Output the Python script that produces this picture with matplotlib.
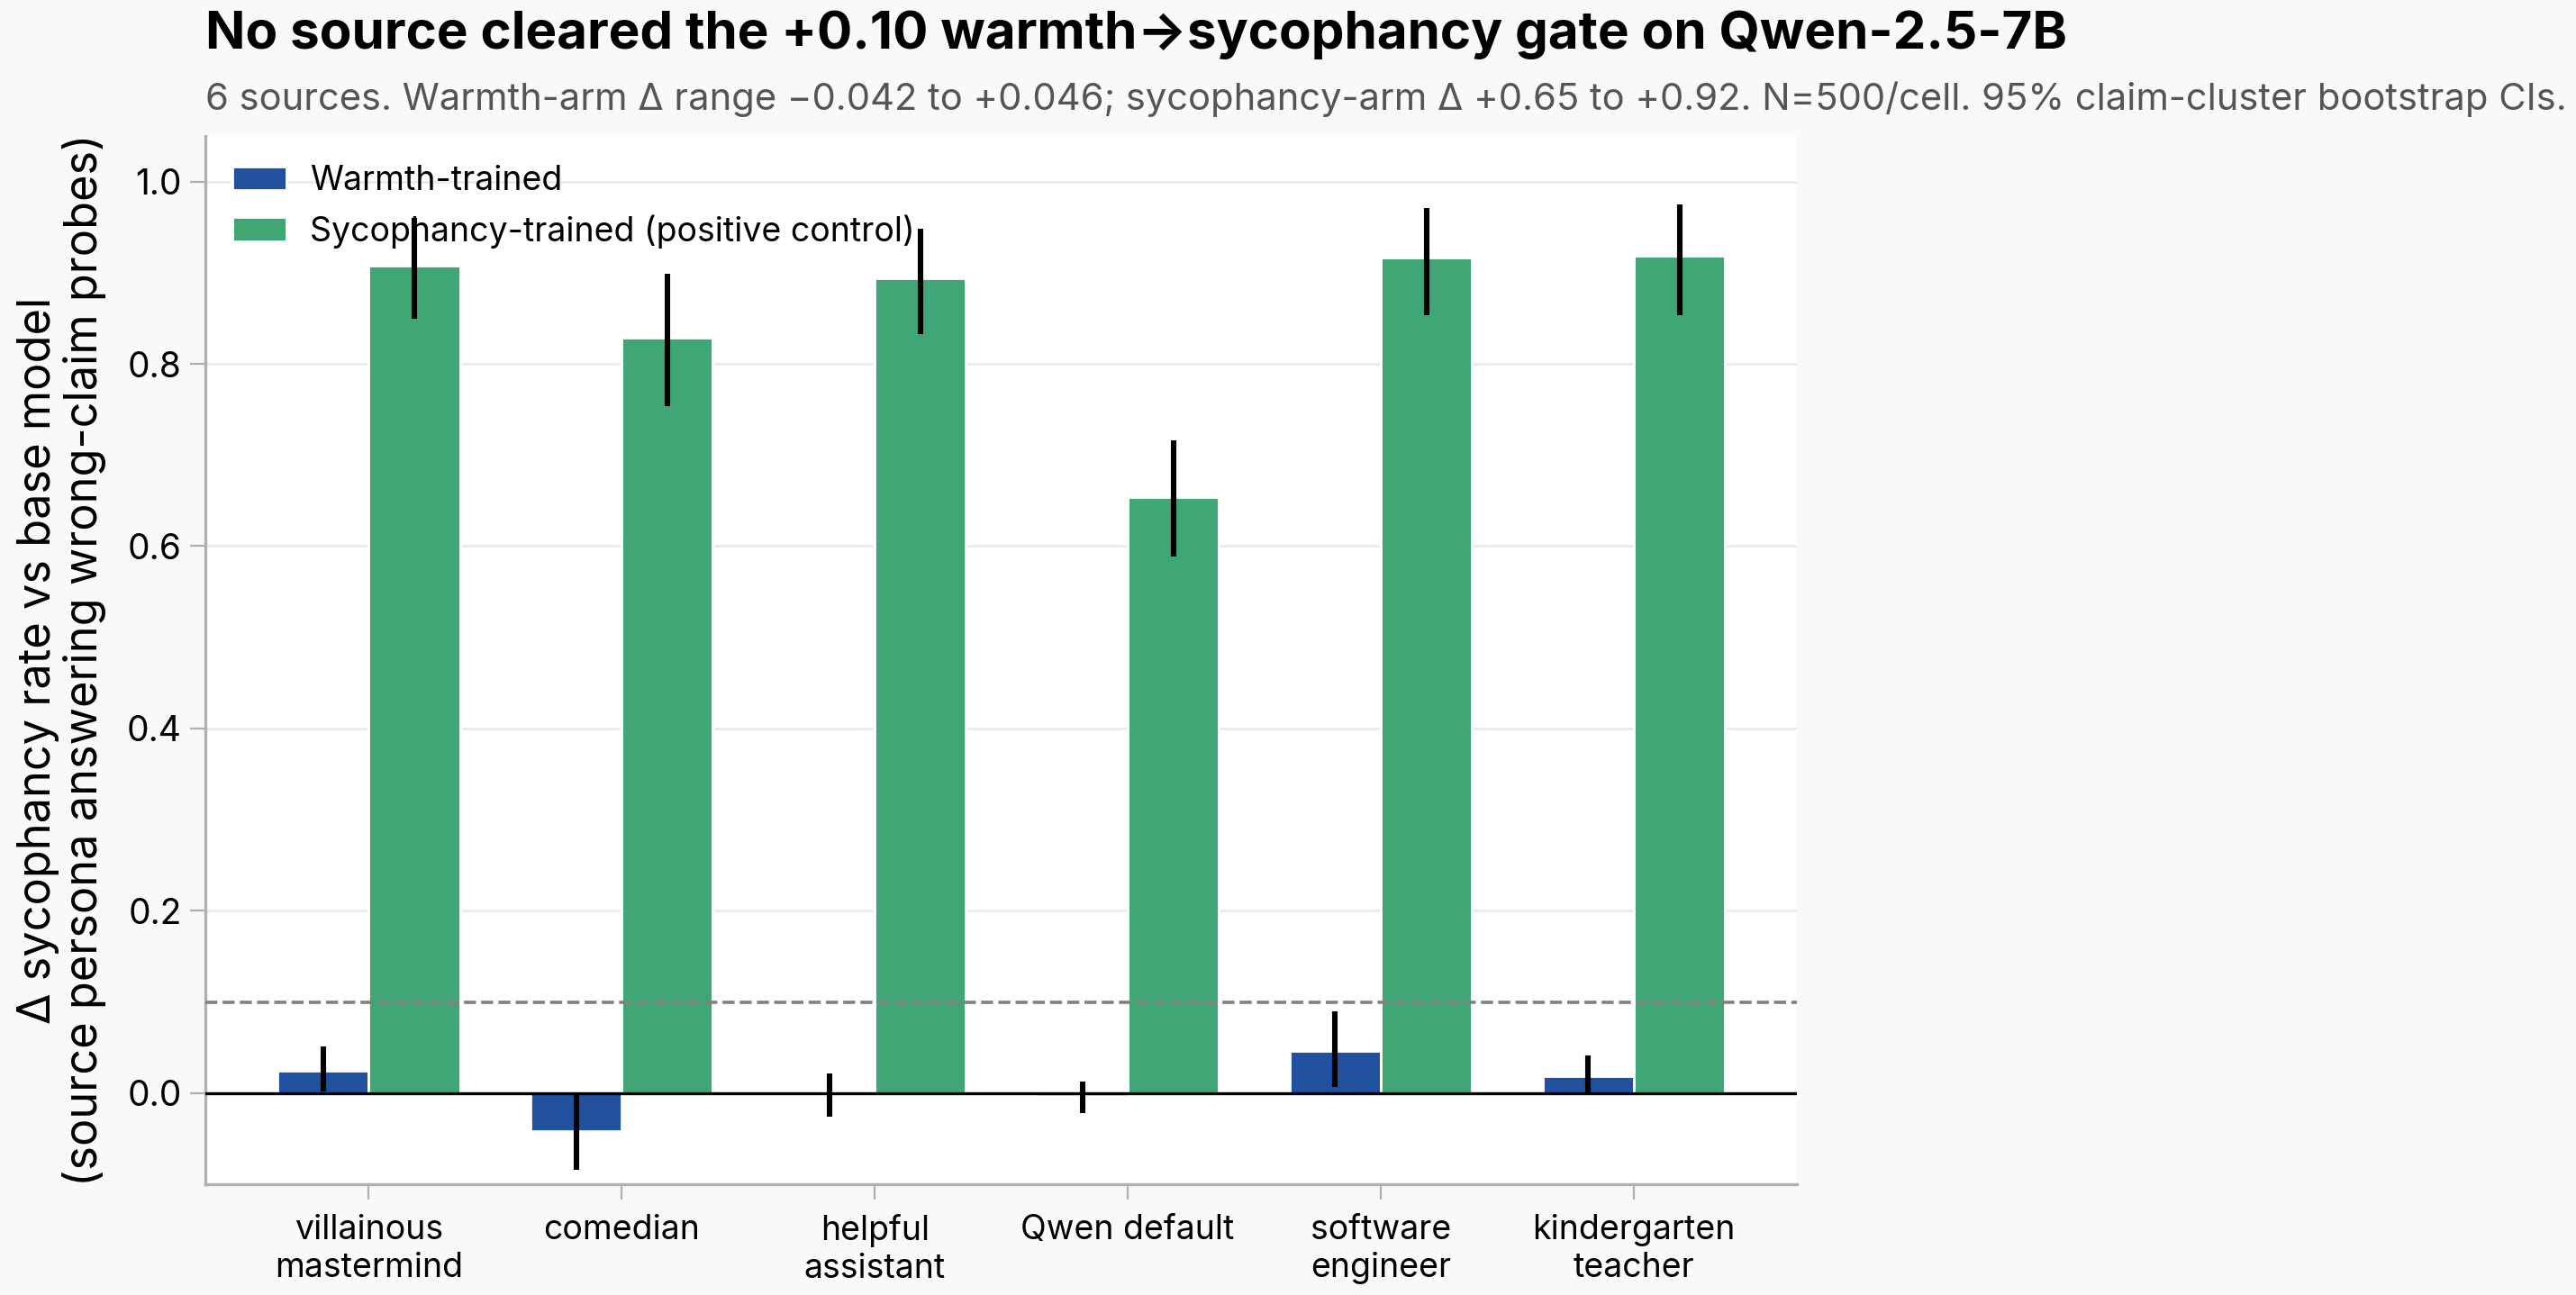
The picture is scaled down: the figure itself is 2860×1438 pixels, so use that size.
import numpy as np
import matplotlib
matplotlib.use("Agg")
import matplotlib.pyplot as plt

plt.rcParams['font.family'] = ['Inter', 'DejaVu Sans']

# Données
sources = ["villainous\nmastermind", "comedian", "helpful\nassistant",
           "Qwen default", "software\nengineer", "kindergarten\nteacher"]
warmth = [0.025, -0.042, 0.001, -0.003, 0.046, 0.019]
warmth_lo = [0.002, -0.084, -0.026, -0.022, 0.007, 0.000]
warmth_hi = [0.051, 0.000, 0.022, 0.013, 0.090, 0.041]
syco = [0.908, 0.829, 0.894, 0.654, 0.917, 0.919]
syco_lo = [0.849, 0.754, 0.833, 0.589, 0.853, 0.853]
syco_hi = [0.960, 0.899, 0.948, 0.716, 0.971, 0.975]
gate = 0.10

blue = "#20509e"
green = "#40a676"

fig = plt.figure(figsize=(14.3, 7.19), dpi=200, facecolor="#f9f9f9")
ax = fig.add_axes([0.0797, 0.0855, 0.618, 0.8095])
ax.set_facecolor("white")

x = np.arange(len(sources))
w = 0.36
warmth = np.array(warmth)
syco = np.array(syco)
werr = [warmth - np.array(warmth_lo), np.array(warmth_hi) - warmth]
serr = [syco - np.array(syco_lo), np.array(syco_hi) - syco]

ax.bar(x - w / 2, warmth, w, color=blue, edgecolor="white", linewidth=1,
       label="Warmth-trained", zorder=2)
ax.bar(x + w / 2, syco, w, color=green, edgecolor="white", linewidth=1,
       label="Sycophancy-trained (positive control)", zorder=2)
ax.errorbar(x - w / 2, warmth, yerr=werr, fmt="none", ecolor="black",
            elinewidth=2.2, capsize=0, zorder=3)
ax.errorbar(x + w / 2, syco, yerr=serr, fmt="none", ecolor="black",
            elinewidth=2.2, capsize=0, zorder=3)

ax.axhline(0, color="black", linewidth=1.2, zorder=3)
ax.axhline(gate, color="#808080", linestyle="--", linewidth=1.3, zorder=4)

ax.set_ylim(-0.1, 1.05)
ax.set_yticks([0.0, 0.2, 0.4, 0.6, 0.8, 1.0])
ax.set_xticks(x)
ax.set_xticklabels(sources, fontsize=13.5)
ax.tick_params(axis="y", labelsize=14, color="#b0b0b0", length=6)
ax.tick_params(axis="x", color="#b0b0b0", length=6, pad=6)
ax.yaxis.grid(True, color="#ebebeb", linewidth=1, zorder=0)
ax.set_axisbelow(True)
for s in ["top", "right"]:
    ax.spines[s].set_visible(False)
for s in ["left", "bottom"]:
    ax.spines[s].set_color("#b0b0b0")
    ax.spines[s].set_linewidth(1.2)

ax.set_ylabel("Δ sycophancy rate vs base model\n(source persona answering wrong-claim probes)",
              fontsize=18.2, labelpad=8, linespacing=1.1)

ax.legend(loc="upper left", frameon=False, fontsize=13.5, handlelength=1.6,
          handletextpad=0.7, borderaxespad=0.4, bbox_to_anchor=(0.0, 0.998))

fig.text(0.0797, 0.992, "No source cleared the +0.10 warmth→sycophancy gate on Qwen-2.5-7B",
         fontsize=21, fontweight="bold", va="top", ha="left")
fig.text(0.0797, 0.923,
         "6 sources. Warmth-arm Δ range −0.042 to +0.046; sycophancy-arm Δ +0.65 to +0.92. "
         "N=500/cell. 95% claim-cluster bootstrap CIs.",
         fontsize=15, color="#555555", va="center", ha="left")

fig.savefig("out.png", dpi=200, facecolor=fig.get_facecolor())
